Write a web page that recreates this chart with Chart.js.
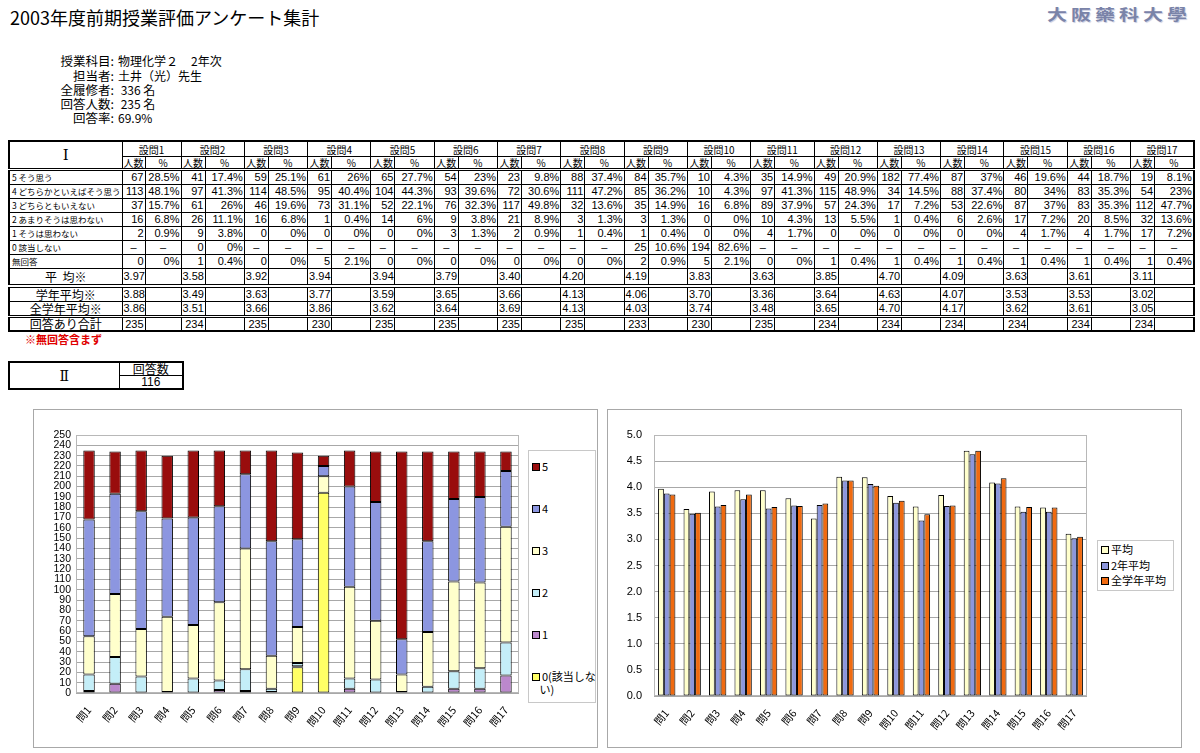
<!DOCTYPE html>
<html><head><meta charset="utf-8">
<script src="https://cdn.jsdelivr.net/npm/chart.js@4.4.0/dist/chart.umd.min.js"></script>
<style>
body{margin:0;width:1200px;height:753px;background:#fff;position:relative;overflow:hidden;font-family:"Noto Sans CJK JP",sans-serif;color:#000}
.abs{position:absolute;white-space:nowrap}
#title{left:10px;top:5px;font-size:18px;line-height:24px}
#logo{left:1047px;top:3px;font-size:20px;line-height:22px;font-weight:bold;letter-spacing:4px;color:#7a83a8;font-family:"Noto Sans CJK TC","Noto Sans CJK JP",sans-serif;transform:scaleY(0.75);transform-origin:0 50%;text-shadow:1px 1px 1px #c8cce0}
.il{font-size:12.5px;line-height:14px;text-align:right;width:60px}
.iv{font-size:12px;line-height:14px}
#t1{position:absolute;left:8px;top:140px;border-collapse:collapse;table-layout:fixed;width:1185px;border:2px solid #000}
#t1 td{border:1px solid #000;font-size:11px;height:13px;line-height:13px;padding:0 1px;text-align:right;font-family:"Liberation Sans Narrow","Liberation Sans",sans-serif;white-space:nowrap;overflow:hidden}
#t1 tr.dbl td{border-top:3px double #000}
#t1 tr.dbl4 td{border-top:4px double #000}
#t1 tr.tall td{height:15px;line-height:15px}
#t1 tr.short td{height:12px;line-height:12px}
#t1 td.lab{text-align:left;font-size:8.5px;font-family:"Noto Sans CJK JP",sans-serif;padding-left:2px}
#t1 td.qh{text-align:center;font-size:10px;font-family:"Noto Sans CJK JP",sans-serif;height:14px}
#t1 td.sh{text-align:center;font-size:10px;font-family:"Noto Sans CJK JP",sans-serif;height:11px;line-height:11px}
#t1 td.roman{text-align:center;font-size:15px;font-family:"DejaVu Serif",serif}
#t1 td.big{text-align:center;font-size:12px;font-family:"Noto Sans CJK JP",sans-serif}
#t1 td.c{text-align:center}
#note{left:25px;top:333px;font-size:11px;line-height:13px;color:#e00000;font-weight:bold}
#t2{position:absolute;left:8px;top:361px;border-collapse:collapse;table-layout:fixed;width:174px;border:2px solid #000}
#t2 td{border:1px solid #000;height:12px;line-height:12px;font-size:12px;text-align:center;padding:0}
#t2 td.roman{font-family:"DejaVu Serif",serif;font-size:14px}
#t2 td.num{font-family:"Liberation Sans Narrow","Liberation Sans",sans-serif}
.box{position:absolute;border:1px solid #a8a8a8;background:#fff}
canvas{position:absolute;left:0;top:0}
.leg{position:absolute;border:1px solid #c8c8c8;background:#fff}
.li{position:absolute;font-size:11px;line-height:13px;white-space:nowrap}
.sw{display:inline-block;width:6px;height:6px;border:1px solid #000;margin-right:2px;vertical-align:0px}
</style>
</head>
<body>
<div id="title" class="abs">2003年度前期授業評価アンケート集計</div>
<div id="logo" class="abs">大阪藥科大學</div>

<div class="abs il" style="left:54px;top:54px">授業科目:</div><div class="abs iv" style="left:118px;top:54px">物理化学２</div><div class="abs iv" style="left:191px;top:54px">2年次</div>
<div class="abs il" style="left:54px;top:69px">担当者:</div><div class="abs iv" style="left:118px;top:69px">土井（光）先生</div>
<div class="abs il" style="left:54px;top:83px">全履修者:</div><div class="abs iv" style="left:118px;top:83px">&nbsp;336 名</div>
<div class="abs il" style="left:54px;top:97px">回答人数:</div><div class="abs iv" style="left:118px;top:97px">&nbsp;235 名</div>
<div class="abs il" style="left:54px;top:111px">回答率:</div><div class="abs iv" style="left:118px;top:111px">69.9%</div>

<table id="t1"></table>
<div id="note" class="abs">※無回答含まず</div>
<table id="t2">
<colgroup><col style="width:110px"><col style="width:64px"></colgroup>
<tr><td rowspan="2" class="roman">Ⅱ</td><td>回答数</td></tr>
<tr><td class="num">116</td></tr>
</table>

<div class="box" style="left:33px;top:409px;width:563px;height:337px">
  <canvas id="c1" width="563" height="337"></canvas>
  <div class="leg" style="left:494px;top:40px;width:66px;height:251px" id="leg1"></div>
</div>
<div class="box" style="left:607px;top:409px;width:573px;height:337px">
  <canvas id="c2" width="573" height="337"></canvas>
  <div class="leg" style="left:489px;top:130px;width:75px;height:49px" id="leg2"></div>
</div>

<script>
const qHeaders = ['設問1','設問2','設問3','設問4','設問5','設問6','設問7','設問8','設問9','設問10','設問11','設問12','設問13','設問14','設問15','設問16','設問17'];
const qAxis = ['問1','問2','問3','問4','問5','問6','問7','問8','問9','問10','問11','問12','問13','問14','問15','問16','問17'];
const rowLabels = ['5 そう思う','4 どちらかといえばそう思う','3 どちらともいえない','2 あまりそうは思わない','1 そうは思わない','0 該当しない','無回答'];

const cnt5  = [67,41,59,61,65,54,23,88,84,10,35,49,182,87,46,44,19];
const cnt4  = [113,97,114,95,104,93,72,111,85,10,97,115,34,88,80,83,54];
const cnt3  = [37,61,46,73,52,76,117,32,35,16,89,57,17,53,87,83,112];
const cnt2  = [16,26,16,1,14,9,21,3,3,0,10,13,1,6,17,20,32];
const cnt1  = [2,9,0,0,0,3,2,1,1,0,4,0,0,0,4,4,17];
const cnt0  = [null,0,null,null,null,null,null,null,25,194,null,null,null,null,null,null,null];
const cntNA = [0,1,0,5,0,0,0,0,2,5,0,1,1,1,1,1,1];

const pct5  = ['28.5%','17.4%','25.1%','26%','27.7%','23%','9.8%','37.4%','35.7%','4.3%','14.9%','20.9%','77.4%','37%','19.6%','18.7%','8.1%'];
const pct4  = ['48.1%','41.3%','48.5%','40.4%','44.3%','39.6%','30.6%','47.2%','36.2%','4.3%','41.3%','48.9%','14.5%','37.4%','34%','35.3%','23%'];
const pct3  = ['15.7%','26%','19.6%','31.1%','22.1%','32.3%','49.8%','13.6%','14.9%','6.8%','37.9%','24.3%','7.2%','22.6%','37%','35.3%','47.7%'];
const pct2  = ['6.8%','11.1%','6.8%','0.4%','6%','3.8%','8.9%','1.3%','1.3%','0%','4.3%','5.5%','0.4%','2.6%','7.2%','8.5%','13.6%'];
const pct1  = ['0.9%','3.8%','0%','0%','0%','1.3%','0.9%','0.4%','0.4%','0%','1.7%','0%','0%','0%','1.7%','1.7%','7.2%'];
const pct0  = [null,'0%',null,null,null,null,null,null,'10.6%','82.6%',null,null,null,null,null,null,null];
const pctNA = ['0%','0.4%','0%','2.1%','0%','0%','0%','0%','0.9%','2.1%','0%','0.4%','0.4%','0.4%','0.4%','0.4%','0.4%'];

const avgSelf  = [3.97,3.58,3.92,3.94,3.94,3.79,3.40,4.20,4.19,3.83,3.63,3.85,4.70,4.09,3.63,3.61,3.11];
const avgGrade = [3.88,3.49,3.63,3.77,3.59,3.65,3.66,4.13,4.06,3.70,3.36,3.64,4.63,4.07,3.53,3.53,3.02];
const avgAll   = [3.86,3.51,3.66,3.86,3.62,3.64,3.69,4.13,4.03,3.74,3.48,3.65,4.70,4.17,3.62,3.61,3.05];
const totals   = [235,234,235,230,235,235,235,235,233,230,235,234,234,234,234,234,234];

const yTicks1 = {min:0, max:250, step:10};
const yTicks2 = {min:0, max:5, step:0.5};

// ---- table I ----
(function(){
  let h = '<colgroup><col style="width:113px">';
  for (let i=0;i<17;i++){ const w = i===0?[23,36]:[24,39.3]; h += `<col style="width:${w[0]}px"><col style="width:${w[1]}px">`; }
  h += '</colgroup>';
  h += '<tr><td rowspan="2" class="roman">Ⅰ</td>' + qHeaders.map(q=>`<td colspan="2" class="qh">${q}</td>`).join('') + '</tr>';
  h += '<tr>' + qHeaders.map(()=>'<td class="sh">人数</td><td class="sh">%</td>').join('') + '</tr>';
  const rows = [[cnt5,pct5],[cnt4,pct4],[cnt3,pct3],[cnt2,pct2],[cnt1,pct1],[cnt0,pct0],[cntNA,pctNA]];
  const f = v => v===null ? '<td class="c">–</td>' : `<td>${v}</td>`;
  rows.forEach((r,k)=>{
    h += `<tr${k===0?' class="dbl"':''}><td class="lab">${rowLabels[k]}</td>` + r[0].map((v,i)=>f(v)+f(r[1][i])).join('') + '</tr>';
  });
  const sum = (lab, arr, fmt, cls) => `<tr class="${cls}"><td class="big">${lab}</td>` + arr.map(v=>`<td>${fmt(v)}</td><td></td>`).join('') + '</tr>';
  h += sum('平&nbsp;&nbsp;均※', avgSelf, v=>v.toFixed(2), 'tall');
  h += sum('学年平均※', avgGrade, v=>v.toFixed(2), 'dbl4');
  h += sum('全学年平均※', avgAll, v=>v.toFixed(2), '');
  h += sum('回答あり合計', totals, v=>v, 'dbl short');
  document.getElementById('t1').innerHTML = h;
})();

// ---- charts ----
const frame = {id:'frame', beforeDatasetsDraw(c){const a=c.chartArea,x=c.ctx;x.save();x.strokeStyle='#b8b8b8';x.lineWidth=1;x.strokeRect(Math.round(a.left)+0.5,Math.round(a.top)+0.5,Math.round(a.width)-1,Math.round(a.height)-1);x.restore();}};
const tickFont = {family:'"Liberation Sans", Arial, sans-serif', size:10.5};
const labFont = {family:'"Noto Sans CJK JP", sans-serif', size:10.5};

const stackDefs = [
  {label:'0(該当しない)', data:cnt0, color:'#ffff66'},
  {label:'1', data:cnt1, color:'#bb88cc'},
  {label:'2', data:cnt2, color:'#c4eef8'},
  {label:'3', data:cnt3, color:'#ffffcc'},
  {label:'4', data:cnt4, color:'#8c96e0'},
  {label:'5', data:cnt5, color:'#990d0d'}
];
new Chart(document.getElementById('c1'), {
  type:'bar',
  data:{labels:qAxis, datasets:stackDefs.map(s=>({label:s.label, data:s.data.map(v=>v?v:null), backgroundColor:s.color, borderColor:'#000', borderWidth:1, borderSkipped:false, barPercentage:0.44, categoryPercentage:1}))},
  options:{animation:false, responsive:false, devicePixelRatio:1,
    layout:{padding:{top:25,right:78,left:0,bottom:0}},
    plugins:{legend:{display:false}, tooltip:{enabled:false}},
    scales:{
      x:{stacked:true, grid:{display:false}, border:{display:false}, ticks:{autoSkip:false, minRotation:50, maxRotation:50, font:labFont, color:'#000', padding:3}, afterFit(s){s.height=54;}},
      y:{stacked:true, min:yTicks1.min, max:yTicks1.max, border:{display:false}, grid:{color:'#a8a8a8', drawTicks:false}, ticks:{stepSize:yTicks1.step, autoSkip:false, font:tickFont, color:'#000', padding:5}, afterFit(s){s.width=42;}}
    }},
  plugins:[frame]
});

const barDefs = [
  {label:'平均', data:avgSelf, color:'#ffffcc'},
  {label:'2年平均', data:avgGrade, color:'#8c96dc'},
  {label:'全学年平均', data:avgAll, color:'#f06a10'}
];
new Chart(document.getElementById('c2'), {
  type:'bar',
  data:{labels:qAxis, datasets:barDefs.map(s=>({label:s.label, data:s.data, backgroundColor:s.color, borderColor:'#000', borderWidth:1, borderSkipped:false, barPercentage:1, categoryPercentage:0.68}))},
  options:{animation:false, responsive:false, devicePixelRatio:1,
    layout:{padding:{top:25,right:94,left:0,bottom:0}},
    plugins:{legend:{display:false}, tooltip:{enabled:false}},
    scales:{
      x:{grid:{display:false}, border:{display:false}, ticks:{autoSkip:false, minRotation:50, maxRotation:50, font:labFont, color:'#000', padding:3}, afterFit(s){s.height=51;}},
      y:{min:yTicks2.min, max:yTicks2.max, border:{display:false}, grid:{color:'#a8a8a8', drawTicks:false}, ticks:{stepSize:yTicks2.step, autoSkip:false, font:{family:tickFont.family,size:11}, color:'#000', padding:12, callback:v=>Number(v).toFixed(1)}, afterFit(s){s.width=46;}}
    }},
  plugins:[frame]
});

// ---- HTML legends ----
(function(){
  const l1 = document.getElementById('leg1');
  const order = stackDefs.slice().reverse();
  const tops = [9, 51, 93, 135, 177, 219];
  order.forEach((s,i)=>{
    const d = document.createElement('div'); d.className='li'; d.style.left='3px'; d.style.top=tops[i]+'px';
    const txt = s.label === '0(該当しない)' ? '0(該当しな<br>&nbsp;&nbsp;&nbsp;い)' : s.label;
    d.innerHTML = `<span class="sw" style="background:${s.color}"></span>${txt}`;
    l1.appendChild(d);
  });
  const l2 = document.getElementById('leg2');
  barDefs.forEach((s,i)=>{
    const d = document.createElement('div'); d.className='li'; d.style.left='3px'; d.style.top=(2+i*15.5)+'px';
    d.innerHTML = `<span class="sw" style="background:${s.color}"></span>${s.label}`;
    l2.appendChild(d);
  });
})();
</script>
</body></html>
